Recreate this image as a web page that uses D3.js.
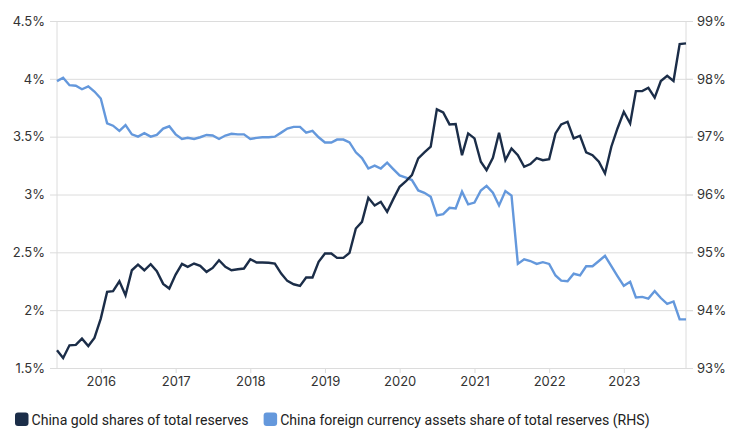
<!DOCTYPE html>
<html><head><meta charset="utf-8">
<script src="https://cdn.jsdelivr.net/npm/d3@7"></script>
<style>
html,body{margin:0;padding:0;background:#fff;}
svg{display:block;}
</style></head>
<body>
<svg id="chart" width="740" height="437"></svg>
<script>
// Monthly categories: June 2015 .. November 2023
const startMonth = new Date(2015, 5, 1);
const endMonthExclusive = new Date(2023, 11, 1);
const months = d3.timeMonth.range(startMonth, endMonthExclusive);

// China gold share of total reserves (%), left axis
const goldShare = [
1.653,1.587,1.696,1.70,1.754,1.69,1.76,1.927,2.158,2.164,2.25,2.129,
2.345,2.394,2.345,2.397,2.337,2.227,2.187,2.308,2.40,2.374,2.403,2.383,
2.331,2.365,2.432,2.374,2.345,2.354,2.36,2.44,2.412,2.412,2.41,2.403,
2.316,2.253,2.224,2.21,2.282,2.282,2.418,2.49,2.49,2.452,2.452,2.495,
2.706,2.764,2.971,2.905,2.937,2.85,2.96,3.067,3.116,3.167,3.312,3.364,
3.413,3.736,3.71,3.606,3.609,3.34,3.528,3.485,3.283,3.211,3.317,3.534,
3.297,3.398,3.34,3.24,3.263,3.315,3.297,3.306,3.528,3.606,3.629,3.485,
3.508,3.364,3.34,3.283,3.182,3.413,3.571,3.715,3.614,3.894,3.894,3.923,
3.837,3.981,4.027,3.981,4.301,4.307];

// China foreign currency assets share of total reserves (%), right axis
const fxShare = [
97.96,98.02,97.89,97.88,97.82,97.87,97.78,97.66,97.23,97.19,97.10,97.20,
97.04,97.00,97.06,97.00,97.03,97.14,97.18,97.04,96.96,96.98,96.96,96.99,
97.03,97.02,96.96,97.02,97.05,97.04,97.04,96.96,96.98,96.99,96.99,97.00,
97.07,97.14,97.17,97.17,97.07,97.10,96.99,96.90,96.90,96.95,96.95,96.90,
96.73,96.63,96.45,96.50,96.45,96.55,96.44,96.33,96.29,96.25,96.07,96.03,
95.96,95.64,95.66,95.77,95.76,96.05,95.83,95.86,96.07,96.15,96.03,95.81,
96.06,95.98,94.80,94.88,94.85,94.80,94.83,94.80,94.60,94.51,94.50,94.63,
94.60,94.76,94.76,94.85,94.94,94.76,94.59,94.42,94.49,94.22,94.23,94.20,
94.33,94.21,94.11,94.15,93.84,93.84];

const leftTicks = [1.5, 2, 2.5, 3, 3.5, 4, 4.5];
const rightTicks = [93, 94, 95, 96, 97, 98, 99];
const yearTicks = [2016, 2017, 2018, 2019, 2020, 2021, 2022, 2023];
const seriesNames = ["China gold shares of total reserves",
                     "China foreign currency assets share of total reserves (RHS)"];
const seriesColors = ["#1b2d48", "#6498dc"];

const svg = d3.select("#chart");
const m = {left: 57, right: 686, top: 21, bottom: 368};

const x = d3.scaleTime().domain([months[0], months[months.length - 1]]).range([m.left, m.right]);
const yL = d3.scaleLinear().domain([1.5, 4.5]).range([m.bottom, m.top]);
const yR = d3.scaleLinear().domain([93, 99]).range([m.bottom, m.top]);

const fontAxis = "Inter, 'DejaVu Sans', sans-serif";
const gridColor = "#dcdcdc";

// left axis with gridlines
const gL = svg.append("g").attr("transform", `translate(${m.left},0)`)
  .call(d3.axisLeft(yL).tickValues(leftTicks)
    .tickFormat(d => d + "%")
    .tickSize(-(m.right - m.left)).tickSizeOuter(0).tickPadding(12));
gL.selectAll(".tick line").attr("stroke", gridColor).attr("x1", -7).attr("x2", m.right - m.left + 7);
gL.select(".domain").attr("stroke", gridColor).attr("d", `M0,${m.top}V${m.bottom}`);
gL.selectAll("text").attr("font-family", fontAxis).attr("font-size", 13).attr("fill", "#333");

// right axis
const gR = svg.append("g").attr("transform", `translate(${m.right},0)`)
  .call(d3.axisRight(yR).tickValues(rightTicks)
    .tickFormat(d => d + "%").tickSize(7).tickSizeOuter(0).tickPadding(4));
gR.selectAll(".tick line").attr("stroke", gridColor);
gR.select(".domain").attr("stroke", gridColor).attr("d", `M0,${m.top}V${m.bottom}`);
gR.selectAll("text").attr("font-family", fontAxis).attr("font-size", 13).attr("fill", "#333");

// bottom axis
const gX = svg.append("g").attr("transform", `translate(0,${m.bottom})`)
  .call(d3.axisBottom(x).tickValues(yearTicks.map(yv => new Date(yv, 0, 1)))
    .tickFormat(d3.timeFormat("%Y")).tickSize(5).tickSizeOuter(0).tickPadding(4));
gX.selectAll(".tick line").attr("stroke", gridColor);
gX.select(".domain").attr("stroke", gridColor);
gX.selectAll("text").attr("font-family", fontAxis).attr("font-size", 13).attr("fill", "#333");

// lines
const lineL = d3.line().x((d, i) => x(months[i])).y(d => yL(d));
const lineR = d3.line().x((d, i) => x(months[i])).y(d => yR(d));

svg.append("path").datum(fxShare).attr("d", lineR)
  .attr("fill", "none").attr("stroke", seriesColors[1]).attr("stroke-width", 2.4)
  .attr("stroke-linejoin", "miter");
svg.append("path").datum(goldShare).attr("d", lineL)
  .attr("fill", "none").attr("stroke", seriesColors[0]).attr("stroke-width", 2.4)
  .attr("stroke-linejoin", "miter");

// legend
const legend = svg.append("g").attr("font-family", "Roboto, 'Liberation Sans', Arial, sans-serif").attr("font-size", 14.1);
let lx = 15;
seriesNames.forEach((name, i) => {
  legend.append("rect").attr("x", lx).attr("y", 412.5).attr("width", 13.5).attr("height", 13.5)
    .attr("rx", 3).attr("fill", seriesColors[i]);
  const t = legend.append("text").attr("x", lx + 16.5).attr("y", 425).attr("fill", "#222").text(name);
  lx += 16.5 + t.node().getComputedTextLength() + 15;
});
</script>
</body></html>
